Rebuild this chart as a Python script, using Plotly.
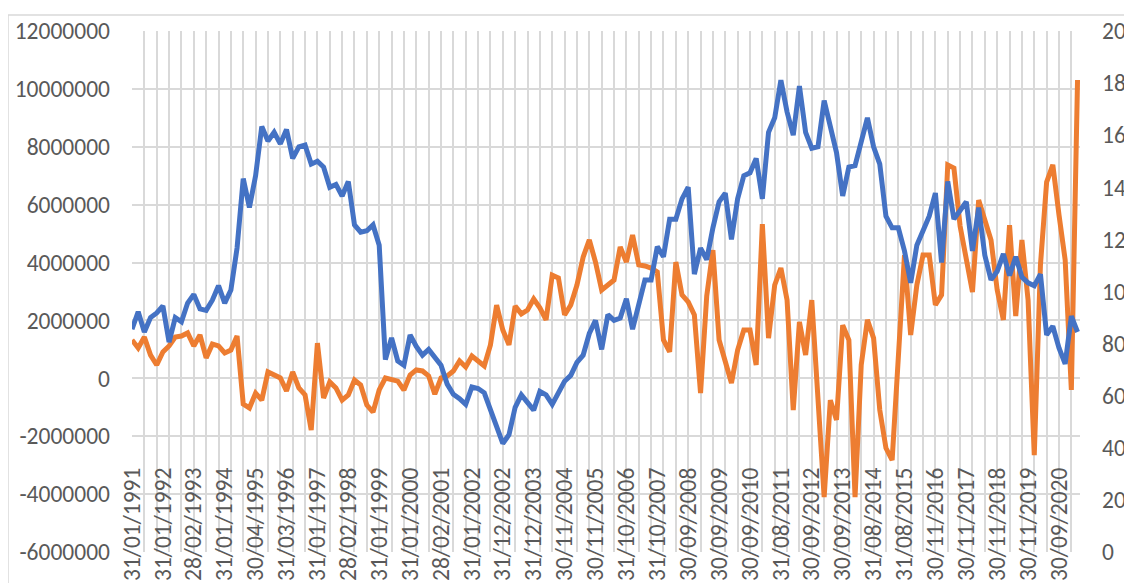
import plotly.graph_objects as go

# ---- data ----
date_labels = ["31/01/1991", "31/01/1992", "28/02/1993", "31/01/1994", "30/04/1995",
               "31/03/1996", "31/01/1997", "28/02/1998", "31/01/1999", "31/01/2000",
               "28/02/2001", "31/01/2002", "31/12/2002", "31/12/2003", "30/11/2004",
               "30/11/2005", "31/10/2006", "31/10/2007", "30/09/2008", "30/09/2009",
               "30/09/2010", "31/08/2011", "30/09/2012", "30/09/2013", "31/08/2014",
               "31/08/2015", "30/11/2016", "30/11/2017", "30/11/2018", "30/11/2019",
               "30/09/2020"]

# blue series, left axis (millions)
blue_millions = [
    1.7, 2.3, 1.6, 2.1, 2.26, 2.5, 1.25, 2.1, 1.95, 2.6,
    2.9, 2.4, 2.35, 2.7, 3.2, 2.6, 3.05, 4.5, 6.9, 5.9,
    7.0, 8.7, 8.2, 8.5, 8.1, 8.6, 7.6, 8.0, 8.06, 7.4,
    7.5, 7.3, 6.6, 6.7, 6.3, 6.8, 5.3, 5.05, 5.1, 5.3,
    4.6, 0.65, 1.4, 0.6, 0.45, 1.5, 1.1, 0.8, 1.0, 0.75,
    0.45, -0.2, -0.55, -0.7, -0.9, -0.3, -0.35, -0.5, -1.1, -1.6,
    -2.25, -1.95, -1.0, -0.57, -0.85, -1.1, -0.45, -0.57, -0.9, -0.5,
    -0.1, 0.1, 0.55, 0.8, 1.55, 2.0, 1.0, 2.2, 2.0, 2.08,
    2.75, 1.7, 2.6, 3.4, 3.4, 4.55, 4.2, 5.5, 5.5, 6.2,
    6.6, 3.6, 4.5, 4.1, 5.2, 6.1, 6.4, 4.8, 6.2, 7.0,
    7.1, 7.6, 6.2, 8.5, 9.0, 10.3, 9.2, 8.4, 10.1, 8.5,
    7.95, 8.0, 9.6, 8.6, 7.8, 6.3, 7.3, 7.35, 8.1, 9.0,
    8.0, 7.4, 5.6, 5.2, 5.2, 4.4, 3.3, 4.6, 5.1, 5.6,
    6.4, 4.0, 6.8, 5.5, 5.8, 6.1, 4.4, 5.9, 4.25, 3.4,
    3.7, 4.3, 3.55, 4.2, 3.5, 3.3, 3.2, 3.6, 1.5, 1.8,
    1.05, 0.5, 2.15, 1.6]

# orange series, right axis
orange = [
    81.4, 78.3, 82.5, 75.6, 71.8, 76.8, 79.1, 82.5, 82.9, 84.1,
    79.1, 83.3, 74.5, 79.8, 79.1, 76.4, 77.5, 82.9, 56.8, 55.3,
    61.0, 58.3, 69.1, 67.9, 66.8, 61.8, 69.1, 63.0, 60.3, 46.8,
    80.2, 59.1, 65.3, 63.0, 58.3, 60.3, 66.0, 64.1, 56.4, 53.7,
    62.2, 66.8, 66.4, 65.6, 62.2, 67.9, 69.9, 69.5, 67.6, 60.6,
    66.8, 67.6, 69.5, 73.3, 71.0, 75.2, 73.3, 71.4, 79.5, 94.8,
    85.2, 79.5, 94.4, 91.4, 92.9, 97.1, 93.7, 89.1, 106.3, 105.2,
    91.0, 94.8, 102.5, 113.2, 119.8, 111.3, 100.6, 102.5, 104.4, 117.1,
    111.3, 121.7, 110.2, 109.8, 109.0, 107.5, 81.4, 76.8, 111.3, 98.7,
    96.0, 91.0, 61.0, 98.3, 115.9, 81.4, 73.7, 64.9, 77.5, 85.2,
    85.2, 71.8, 125.9, 82.1, 102.5, 109.0, 96.7, 54.5, 88.3, 75.6,
    96.7, 58.3, 21.1, 58.3, 50.7, 87.1, 81.4, 21.1, 71.8, 89.1,
    82.1, 54.5, 39.9, 35.3, 77.5, 114.0, 83.3, 102.5, 114.0, 114.0,
    94.8, 98.7, 148.6, 147.4, 125.1, 111.3, 99.8, 135.1, 127.5, 119.8,
    100.6, 89.1, 125.5, 90.6, 119.8, 96.7, 37.2, 110.2, 142.0, 148.6,
    129.4, 112.1, 62.2, 181.2]

left_ticks = [-6000000, -4000000, -2000000, 0, 2000000, 4000000, 6000000,
              8000000, 10000000, 12000000]
right_ticks = [0, 20, 40, 60, 80, 100, 120, 140, 160, 180, 200]

# ---- figure ----
idx = list(range(len(orange)))
blue = [v * 1_000_000 for v in blue_millions]
label_pos = idx[::5][:len(date_labels)]

FONT = "Carlito, Calibri, 'Liberation Sans', Arial, sans-serif"
TXT = "#595959"
GRID = "#D9D9D9"

fig = go.Figure()
fig.add_trace(go.Scatter(x=idx, y=orange, yaxis="y", mode="lines",
                         line=dict(color="#ED7D31", width=5),
                         showlegend=False, hoverinfo="skip"))
fig.add_trace(go.Scatter(x=idx, y=blue, yaxis="y2", mode="lines",
                         line=dict(color="#4472C4", width=5),
                         showlegend=False, hoverinfo="skip"))

fig.update_layout(
    width=1116, height=575,
    margin=dict(l=124, r=44, t=23, b=31, autoexpand=False),
    paper_bgcolor="white", plot_bgcolor="white",
    font=dict(family=FONT, size=23.5, color=TXT),
    xaxis=dict(range=[0, 153.4], tickmode="array", tickvals=label_pos,
               ticktext=date_labels, tickangle=-90, showgrid=False,
               zeroline=False, showline=False, ticks="", automargin=False,
               anchor="free", position=0.173,
               minor=dict(tickmode="linear", tick0=0, dtick=2, showgrid=True,
                          gridcolor=GRID, gridwidth=1.5, ticks="")),
    yaxis=dict(side="right", range=[0, 200], tickmode="array",
               tickvals=right_ticks, ticktext=[str(v) for v in right_ticks],
               showgrid=False, zeroline=False, showline=False, ticks="",
               ticklabelstandoff=21, automargin=False),
    yaxis2=dict(side="left", overlaying="y", range=[-6000000, 12000000],
                tickmode="array", tickvals=left_ticks,
                ticktext=[str(v) for v in left_ticks],
                showgrid=True, gridcolor=GRID, gridwidth=1.5,
                zeroline=False, showline=False, ticks="",
                ticklabelstandoff=21, automargin=False),
    shapes=[dict(type="rect", xref="paper", yref="paper",
                 x0=-0.1308, x1=1.2, y0=-0.3, y1=1.0307,
                 line=dict(color=GRID, width=1.5), fillcolor="rgba(0,0,0,0)",
                 layer="below")],
)

fig.write_html("out.html")
